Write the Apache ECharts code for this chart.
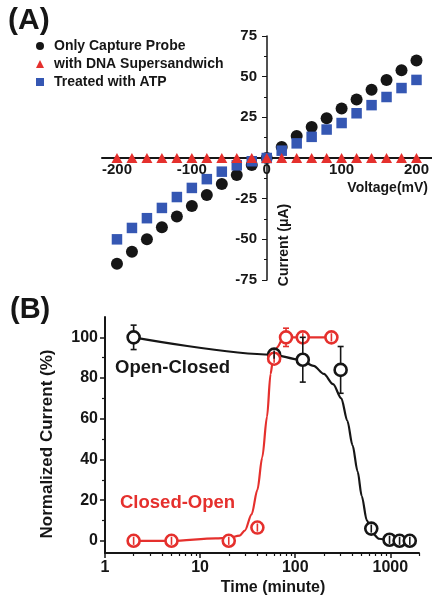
<!DOCTYPE html>
<html>
<head>
<meta charset="utf-8">
<script src="https://cdn.jsdelivr.net/npm/echarts@6/dist/echarts.min.js"></script>
<style>
html, body { margin: 0; padding: 0; background: #fff; }
#main { width: 432px; height: 597px; }
</style>
</head>
<body>
<div id="main"></div>
<script>
// panel A: I-V curves
var voltage = [-200, -180, -160, -140, -120, -100, -80, -60, -40, -20, 0, 20, 40, 60, 80, 100, 120, 140, 160, 180, 200];
var captureProbe = [-65, -57.7, -50, -42.5, -36, -29.5, -22.7, -16, -10.4, -4.3, 0, 6.8, 13.5, 19, 24.5, 30.5, 36, 42, 48, 54, 60];
var supersandwich = [0, 0, 0, 0, 0, 0, 0, 0, 0, 0, 0, 0, 0, 0, 0, 0, 0, 0, 0, 0, 0];
var treatedATP = [-50, -43, -37, -30.7, -24, -18.4, -13, -8.4, -4.5, -2, 0, 4.5, 9, 13, 17.5, 21.5, 27.5, 32.5, 37.5, 43, 48];
var voltTicks = [-200, -100, 0, 100, 200];

// panel B: normalized current vs time
var ocTime = [2, 60, 120, 300, 630, 980, 1250, 1600];
var openClosed = [100, 91.5, 89, 84, 6, 0.5, 0, 0];
var openClosedErr = [6, 2, 11, 11.5, 2, 2, 2, 2];
var coTime = [2, 5, 20, 40, 60, 80, 120, 240];
var closedOpen = [0, 0, 0, 6.5, 89.5, 100, 100, 100];
var closedOpenErr = [2, 2, 2, 2, 2, 4.5, 2, 2];

// fitted curves
var ocFitTime = [2, 57, 113, 156, 200, 250, 305, 353, 400, 453, 500, 566, 640, 760, 975];
var ocFit = [100, 91.5, 89, 86, 82, 77, 70, 59, 47, 34, 22, 10, 4, 1, 0];
var coFitTime = [2, 5, 14.6, 20, 26, 29.5, 34.8, 40, 45, 50.5, 55, 58, 64, 75.5, 80, 120, 240];
var coFit = [0, 0, 1.2, 1.5, 2.5, 5, 13, 25, 41, 61, 82, 88, 95, 100, 100, 100, 100];

var timeTicks = [1, 10, 100, 1000];
var timeMinor = [2, 3, 4, 5, 6, 7, 8, 9, 20, 30, 40, 50, 60, 70, 80, 90, 200, 300, 400, 500, 600, 700, 800, 900, 2000];
var normTicks = [0, 20, 40, 60, 80, 100];
var normMinor = [10, 30, 50, 70, 90];

var FONT = '"Liberation Sans", Arial, sans-serif';
var INK = '#161616';
var RED = '#e5302d';
var BLUE = '#3557b3';

function pairs(xs, ys) {
    return xs.map(function (x, i) { return [x, ys[i]]; });
}
function triples(xs, ys, es) {
    return xs.map(function (x, i) { return [x, ys[i], es[i]]; });
}

function errorBar(color) {
    return function (params, api) {
        var t = api.value(0), v = api.value(1), e = api.value(2);
        var c = api.coord([t, v]);
        var hi = api.coord([t, v + e]);
        var lo = api.coord([t, v - e]);
        var r = 6, cap = 3;
        var style = { stroke: color, lineWidth: 1.6 };
        var kids = [];
        if (c[1] - hi[1] > r + 1) {
            kids.push({ type: 'line', shape: { x1: c[0], y1: hi[1], x2: c[0], y2: c[1] - r }, style: style });
            kids.push({ type: 'line', shape: { x1: c[0], y1: lo[1], x2: c[0], y2: c[1] + r }, style: style });
            kids.push({ type: 'line', shape: { x1: c[0] - cap, y1: hi[1], x2: c[0] + cap, y2: hi[1] }, style: style });
            kids.push({ type: 'line', shape: { x1: c[0] - cap, y1: lo[1], x2: c[0] + cap, y2: lo[1] }, style: style });
        } else {
            kids.push({ type: 'line', shape: { x1: c[0], y1: hi[1], x2: c[0], y2: lo[1] }, style: style });
        }
        return { type: 'group', children: kids };
    };
}

var labelA = { color: INK, fontFamily: FONT, fontSize: 15, fontWeight: 'bold' };
var labelB = { color: INK, fontFamily: FONT, fontSize: 16, fontWeight: 'bold' };

// grid A: 0 mV sits 165px in from the left edge, 0 uA sits 122px up from the bottom
var option = {
    animation: false,
    backgroundColor: '#fff',
    legend: {
        orient: 'vertical',
        left: 31,
        top: 34,
        itemWidth: 8,
        itemHeight: 8,
        itemGap: 4,
        textStyle: { color: INK, fontFamily: FONT, fontSize: 14, fontWeight: 'bold', padding: [0, 0, 0, 5] },
        data: [
            { name: 'Only Capture Probe', icon: 'circle' },
            { name: 'with DNA Supersandwich', icon: 'triangle' },
            { name: 'Treated with ATP', icon: 'rect' }
        ]
    },
    grid: [
        { left: 102, top: 36, width: 330, height: 244 },
        { left: 105, top: 317, right: 13, height: 236 }
    ],
    xAxis: [
        {
            gridIndex: 0, type: 'value', min: -220, max: 220,
            position: 'bottom', offset: -122,
            axisLine: { onZero: false, lineStyle: { color: INK, width: 2 } },
            axisTick: { show: true, length: 3, customValues: voltTicks, lineStyle: { color: INK } },
            axisLabel: Object.assign({ margin: 4, customValues: voltTicks }, labelA),
            splitLine: { show: false }
        },
        {
            gridIndex: 1, type: 'log', logBase: 10, min: 1, max: 2000, position: 'bottom',
            axisLine: { onZero: false, lineStyle: { color: INK, width: 2 } },
            axisTick: { length: 5, customValues: timeTicks, lineStyle: { color: INK, width: 1.5 } },
            axisLabel: Object.assign({
                margin: 7, customValues: timeTicks,
                formatter: function (v) { return String(v); }
            }, labelB),
            splitLine: { show: false }
        },
        {
            gridIndex: 1, type: 'log', logBase: 10, min: 1, max: 2000, position: 'bottom',
            axisLine: { show: false, onZero: false },
            axisTick: { length: 3, customValues: timeMinor, lineStyle: { color: INK, width: 1.2 } },
            axisLabel: { show: false },
            splitLine: { show: false }
        }
    ],
    yAxis: [
        {
            gridIndex: 0, type: 'value', min: -75, max: 75, interval: 25,
            position: 'left', offset: -165,
            axisLine: { onZero: false, lineStyle: { color: INK, width: 1.5 } },
            axisTick: { length: 5, lineStyle: { color: INK } },
            minorTick: { show: true, splitNumber: 2, length: 3, lineStyle: { color: INK } },
            axisLabel: Object.assign({
                margin: 10,
                formatter: function (v) { return v === 0 ? '' : String(v); }
            }, labelA),
            splitLine: { show: false }
        },
        {
            gridIndex: 1, type: 'value', min: -6, max: 110, position: 'left',
            axisLine: { onZero: false, lineStyle: { color: INK, width: 2 } },
            axisTick: { length: 5, customValues: normTicks, lineStyle: { color: INK, width: 1.5 } },
            axisLabel: Object.assign({ margin: 7, customValues: normTicks }, labelB),
            splitLine: { show: false }
        },
        {
            gridIndex: 1, type: 'value', min: -6, max: 110, position: 'left',
            axisLine: { show: false, onZero: false },
            axisTick: { length: 3, customValues: normMinor, lineStyle: { color: INK, width: 1.2 } },
            axisLabel: { show: false },
            splitLine: { show: false }
        }
    ],
    graphic: [
        { type: 'text', left: 8, top: 6, style: { text: '(A)', fill: INK, font: 'bold 30px ' + FONT } },
        { type: 'text', left: 10, top: 295, style: { text: '(B)', fill: INK, font: 'bold 29px ' + FONT } },
        { type: 'text', right: 4, top: 181, style: { text: 'Voltage(mV)', fill: INK, font: 'bold 14px ' + FONT } },
        { type: 'text', x: 284, y: 245, rotation: Math.PI / 2, style: { text: 'Current (\u03bcA)', fill: INK, font: 'bold 14px ' + FONT, align: 'center', verticalAlign: 'middle' } },
        { type: 'text', x: 47, y: 444, rotation: Math.PI / 2, style: { text: 'Normalized Current (%)', fill: INK, font: 'bold 17px ' + FONT, align: 'center', verticalAlign: 'middle' } },
        { type: 'text', x: 273, y: 588, style: { text: 'Time (minute)', fill: INK, font: 'bold 16px ' + FONT, align: 'center', verticalAlign: 'middle' } },
        { type: 'text', x: 115, y: 368, style: { text: 'Open-Closed', fill: INK, font: 'bold 18.5px ' + FONT, verticalAlign: 'middle' } },
        { type: 'text', x: 120, y: 503, style: { text: 'Closed-Open', fill: RED, font: 'bold 18.5px ' + FONT, verticalAlign: 'middle' } }
    ],
    series: [
        {
            name: 'Only Capture Probe', type: 'scatter', xAxisIndex: 0, yAxisIndex: 0,
            symbol: 'circle', symbolSize: 12, itemStyle: { color: INK, opacity: 1 },
            data: pairs(voltage, captureProbe), z: 3
        },
        {
            name: 'Treated with ATP', type: 'scatter', xAxisIndex: 0, yAxisIndex: 0,
            symbol: 'rect', symbolSize: 10.5, itemStyle: { color: BLUE, opacity: 1 },
            data: pairs(voltage, treatedATP), z: 4
        },
        {
            name: 'with DNA Supersandwich', type: 'scatter', xAxisIndex: 0, yAxisIndex: 0,
            symbol: 'triangle', symbolSize: [11, 10], itemStyle: { color: RED, opacity: 1 },
            data: pairs(voltage, supersandwich), z: 5
        },
        {
            type: 'line', xAxisIndex: 1, yAxisIndex: 1, showSymbol: false,
            smooth: 0.3, smoothMonotone: 'x',
            lineStyle: { color: INK, width: 2.2 },
            data: pairs(ocFitTime, ocFit), z: 2
        },
        {
            type: 'line', xAxisIndex: 1, yAxisIndex: 1, showSymbol: false,
            smooth: 0.3, smoothMonotone: 'x',
            lineStyle: { color: RED, width: 2.2 },
            data: pairs(coFitTime, coFit), z: 2
        },
        {
            type: 'scatter', xAxisIndex: 1, yAxisIndex: 1, symbol: 'circle', symbolSize: 12,
            itemStyle: { color: '#fff', borderColor: INK, borderWidth: 2.6, opacity: 1 },
            data: pairs(ocTime, openClosed), z: 3
        },
        {
            type: 'scatter', xAxisIndex: 1, yAxisIndex: 1, symbol: 'circle', symbolSize: 12,
            itemStyle: { color: '#fff', borderColor: RED, borderWidth: 2.6, opacity: 1 },
            data: pairs(coTime, closedOpen), z: 4
        },
        {
            type: 'custom', xAxisIndex: 1, yAxisIndex: 1,
            renderItem: errorBar(RED), encode: { x: 0, y: 1 },
            data: triples(coTime, closedOpen, closedOpenErr), z: 5
        },
        {
            type: 'custom', xAxisIndex: 1, yAxisIndex: 1,
            renderItem: errorBar(INK), encode: { x: 0, y: 1 },
            data: triples(ocTime, openClosed, openClosedErr), z: 6
        }
    ]
};

var myChart = echarts.init(document.getElementById('main'));
myChart.setOption(option);
</script>
</body>
</html>
